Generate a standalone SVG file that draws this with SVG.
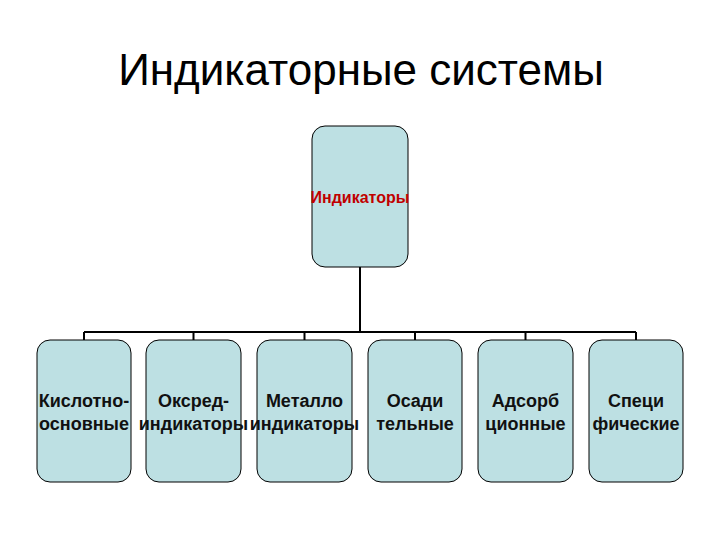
<svg xmlns="http://www.w3.org/2000/svg" width="720" height="540" viewBox="0 0 720 540">
<style>
.box{fill:#bde0e3;stroke:#000;stroke-width:1}
.lbl{font-family:"Liberation Sans",Arial,sans-serif;font-size:18px;font-weight:bold;fill:#111;text-anchor:middle}
.con{stroke:#000;stroke-width:2;fill:none}
</style>
<rect width="720" height="540" fill="#fff"/>
<text x="361" y="85" font-family="Liberation Sans,Arial,sans-serif" font-size="44" text-anchor="middle" fill="#000">Индикаторные системы</text>
<g id="connectors">
<path class="con" d="M360 267V332M84 332H636M84 332V340M193.5 332V340M304.5 332V340M415 332V340M525.5 332V340M636 332V340"/>
</g>
<g id="root"><rect class="box" x="312" y="126" width="96" height="141" rx="13"/>
<text x="360" y="203" font-family="Liberation Sans,Arial,sans-serif" font-size="16" font-weight="bold" fill="#c00000" text-anchor="middle">Индикаторы</text></g>
<g id="n1"><rect class="box" x="37" y="340" width="94" height="142" rx="13"/><text class="lbl" x="84" y="407">Кислотно-</text><text class="lbl" x="84" y="430">основные</text></g>
<g id="n2"><rect class="box" x="146" y="340" width="95" height="142" rx="13"/><text class="lbl" x="193.5" y="407">Оксред-</text><text class="lbl" x="193.5" y="430">индикаторы</text></g>
<g id="n3"><rect class="box" x="257" y="340" width="95" height="142" rx="13"/><text class="lbl" x="304.5" y="407">Металло</text><text class="lbl" x="304.5" y="430">индикаторы</text></g>
<g id="n4"><rect class="box" x="368" y="340" width="94" height="142" rx="13"/><text class="lbl" x="415" y="407">Осади</text><text class="lbl" x="415" y="430">тельные</text></g>
<g id="n5"><rect class="box" x="478" y="340" width="95" height="142" rx="13"/><text class="lbl" x="525.5" y="407">Адсорб</text><text class="lbl" x="525.5" y="430">ционные</text></g>
<g id="n6"><rect class="box" x="589" y="340" width="94" height="142" rx="13"/><text class="lbl" x="636" y="407">Специ</text><text class="lbl" x="636" y="430">фические</text></g>
</svg>
